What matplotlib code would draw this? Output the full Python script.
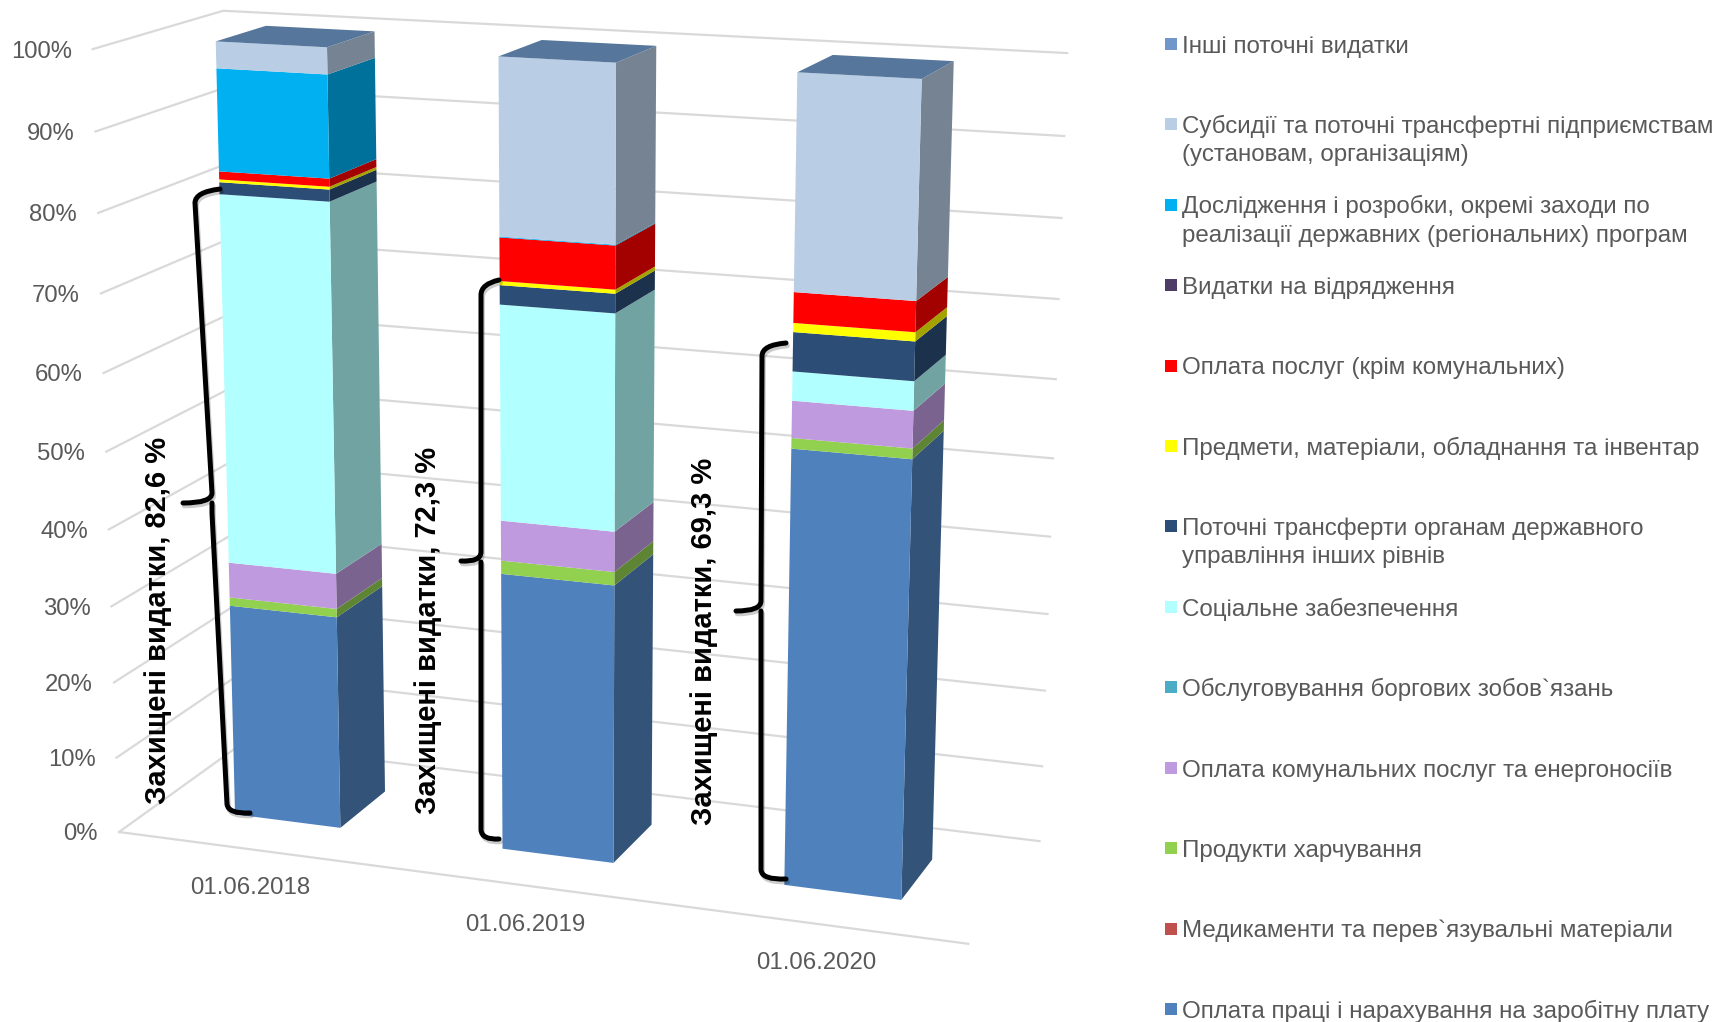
import numpy as np
import matplotlib
matplotlib.use("Agg")
import matplotlib.pyplot as plt
import matplotlib.patheffects as pe
from matplotlib.patches import Polygon, Rectangle, PathPatch
from matplotlib.path import Path

plt.rcParams['font.family'] = ['Liberation Sans', 'DejaVu Sans']

dates = ["01.06.2018", "01.06.2019", "01.06.2020"]
ticks = [0, 10, 20, 30, 40, 50, 60, 70, 80, 90, 100]

# legend order, top to bottom
names = [
    ["Інші поточні видатки"],
    ["Субсидії та поточні трансфертні підприємствам", "(установам, організаціям)"],
    ["Дослідження і розробки, окремі заходи по", "реалізації державних (регіональних) програм"],
    ["Видатки на відрядження"],
    ["Оплата послуг (крім комунальних)"],
    ["Предмети, матеріали, обладнання та інвентар"],
    ["Поточні трансферти органам державного", "управління інших рівнів"],
    ["Соціальне забезпечення"],
    ["Обслуговування боргових зобов`язань"],
    ["Оплата комунальних послуг та енергоносіїв"],
    ["Продукти харчування"],
    ["Медикаменти та перев`язувальні матеріали"],
    ["Оплата праці і нарахування на заробітну плату"],
]
colors = ["#6F97C9", "#B9CDE5", "#00B0F0", "#4F3D68", "#FF0000", "#FFFF00", "#2C4D75",
          "#B2FFFF", "#4BACC6", "#C09ADF", "#92D050", "#C0504D", "#4F81BD"]

# values per date, same order as the legend
other = [0.0, 0.0, 0.0]
subsidies = [3.3, 21.75, 25.9]
research = [12.75, 0.1, 0.0]
travel = [0.0, 0.0, 0.0]
services = [1.0, 5.35, 3.7]
supplies = [0.35, 0.5, 1.1]
transfers = [1.5, 2.4, 4.75]
social = [47.3, 27.1, 3.55]
debt = [0.0, 0.0, 0.0]
utilities = [4.6, 5.1, 4.55]
food = [1.1, 1.7, 1.3]
medicine = [0.0, 0.0, 0.0]
wages = [28.1, 36.0, 55.15]
series = [other, subsidies, research, travel, services, supplies, transfers,
          social, debt, utilities, food, medicine, wages]

protected = ["82,6", "72,3", "69,3"]

# perspective of the plot box: box corner -> pixel
box_world = [(0, 0, 0), (3, 0, 0), (0, 0, 1), (0, 1, 0), (3, 1, 0), (0, 1, 1), (3, 1, 1)]
box_pixel = [(119, 831), (969, 944), (92, 50), (241, 745), (1039, 841), (224, 10), (1067, 53)]

rows = []
rhs = []
for (wx, wz, wv), (px, py) in zip(box_world, box_pixel):
    rows.append([wx, wz, wv, 1, 0, 0, 0, 0, -px * wx, -px * wz, -px * wv])
    rhs.append(px)
    rows.append([0, 0, 0, 0, wx, wz, wv, 1, -py * wx, -py * wz, -py * wv])
    rhs.append(py)
sol = np.linalg.lstsq(np.array(rows, float), np.array(rhs, float), rcond=None)[0]
P = np.append(sol, 1.0).reshape(3, 4)


def proj(x, z, v):
    q = P @ np.array([x, z, v / 100.0, 1.0])
    return q[0] / q[2], q[1] / q[2]


fig = plt.figure(figsize=(17.17, 10.22), dpi=100)
ax = fig.add_axes([0, 0, 1, 1])
ax.set_xlim(0, 1717)
ax.set_ylim(1022, 0)
ax.axis("off")

grid_c = "#D9D9D9"
text_c = "#595959"

# walls
for t in ticks:
    pts = [proj(0, 0, t), proj(0, 1, t), proj(3, 1, t)]
    ax.plot(*zip(*pts), color=grid_c, lw=1.6, solid_joinstyle="miter", zorder=1)
    x0, y0 = proj(0, 0, t)
    ax.text(x0 - 21, y0 + 2.5, "%d%%" % t, ha="right", va="center", fontsize=17.2, color=text_c)
ax.plot(*zip(proj(0, 0, 0), proj(3, 0, 0)), color=grid_c, lw=1.6, zorder=1)

for i, d in enumerate(dates):
    x0, y0 = proj(i + 0.5, 0, 0)
    ax.text(x0 - 1, y0 + 39, d, ha="center", va="center", fontsize=17.3, color=text_c)


def shade(c):
    r, g, b = matplotlib.colors.to_rgb(c)
    return (r * 0.64, g * 0.64, b * 0.64)


# bars
half = 0.2
z0, z1 = 0.3, 0.7
for i in range(len(dates)):
    xl, xr = i + 0.5 - half, i + 0.5 + half
    base = 0.0
    for k in range(len(series) - 1, -1, -1):
        h = series[k][i]
        if h <= 0:
            continue
        top = base + h
        front = [proj(xl, z0, base), proj(xr, z0, base), proj(xr, z0, top), proj(xl, z0, top)]
        side = [proj(xr, z0, base), proj(xr, z1, base), proj(xr, z1, top), proj(xr, z0, top)]
        ax.add_patch(Polygon(side, fc=shade(colors[k]), ec="none", zorder=3))
        ax.add_patch(Polygon(front, fc=colors[k], ec="none", zorder=3))
        base = top
    lid = [proj(xl, z0, base), proj(xr, z0, base), proj(xr, z1, base), proj(xl, z1, base)]
    ax.add_patch(Polygon(lid, fc="#56769B", ec="none", zorder=3))

# braces: top end, top corner, middle, tip, bottom corner, bottom end
braces = [
    [(220, 189), (195, 195), (212, 503), (183, 503), (227, 812), (250, 813)],
    [(499, 280), (481, 287), (481, 562), (461, 561), (481, 838), (499, 839)],
    [(786, 343), (762, 348), (761, 611), (736, 611), (761, 878), (786, 879)],
]
for b in braces:
    te, tc, mid, tip, bc, be = b
    verts = [te, (tc[0], tc[1] - 3), (tc[0], tc[1] + 8), (mid[0], mid[1] - 10), mid, tip, mid,
             (mid[0], mid[1] + 10), (bc[0], bc[1] - 8), (bc[0] + 1, bc[1] + 2), be]
    codes = [Path.MOVETO, Path.CURVE3, Path.CURVE3, Path.LINETO, Path.CURVE3, Path.CURVE3,
             Path.MOVETO, Path.LINETO, Path.LINETO, Path.CURVE3, Path.CURVE3]
    ax.add_patch(PathPatch(Path(verts, codes), fc="none", ec="black", lw=3.6, zorder=5,
                           capstyle="round",
                           path_effects=[pe.SimpleLineShadow(offset=(1, -2), alpha=0.2), pe.Normal()]))

label_pos = [(158, 620), (428, 630), (704, 641)]
for (x, y), p in zip(label_pos, protected):
    ax.text(x, y, "Захищені видатки, %s %%" % p, rotation=90, ha="center", va="center",
            fontsize=21, fontweight="bold", color="black", zorder=6)

# legend
for i, lines in enumerate(names):
    y = 43.8 + 80.45 * i
    ax.add_patch(Rectangle((1165, y - 6), 12, 12, fc=colors[i], ec="none"))
    for j, line in enumerate(lines):
        ax.text(1182, y + 8.7 + j * 28.3, line, ha="left", va="baseline", fontsize=17.4, color=text_c)

fig.savefig("out.png", dpi=100)
